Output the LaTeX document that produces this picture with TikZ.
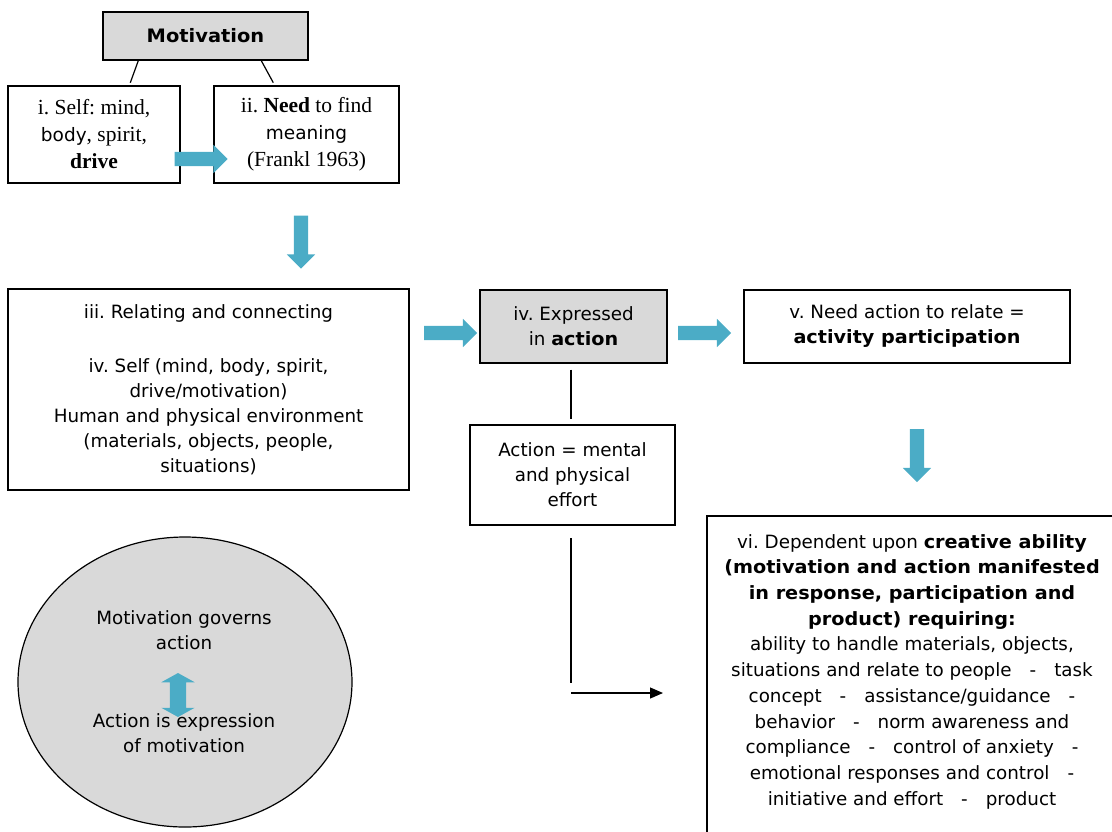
\documentclass[tikz,border=0pt]{standalone}
\usepackage{fontspec}
\setmainfont{Liberation Serif}
\newfontfamily\tah{DejaVu Sans}[BoldFeatures={FakeStretch=1.05}]
\usetikzlibrary{shapes.geometric,shapes.arrows,arrows.meta}
\definecolor{blu}{RGB}{75,172,198}
\definecolor{gry}{RGB}{217,217,217}
\frenchspacing
\begin{document}
\begin{tikzpicture}[x=1pt,y=-1pt,
  box/.style={draw, line width=1.4pt, inner sep=0pt, align=center},
  sf/.style={font=\tah\fontsize{18.3}{25}\selectfont},
  rm/.style={font=\fontsize{21.5}{27}\selectfont},
  rarr/.style={single arrow, fill=blu, draw=none, minimum height=53,
    single arrow head extend=7, inner sep=7pt, shape border rotate=0},
  darr/.style={rarr, shape border rotate=270},
  conn/.style={line width=1.2pt}]
\useasboundingbox (0,0) rectangle (1112,831);
\newcommand\tb[1]{{\tah\fontsize{18.5}{27}\selectfont #1}}
\newcommand\dsh{\hspace{18pt}-\hspace{18pt}}
% top
\node[box, fill=gry, minimum width=205, minimum height=48,
  font=\tah\bfseries\fontsize{18.5}{22}\selectfont] (mot) at (205.5,36) {Motivation};
\node[box, rm, minimum width=172, minimum height=97] (self) at (94,134.5)
  {i. Self: mind,\\\tb{body}, spirit,\\\textbf{drive}};
\node[box, rm, minimum width=185, minimum height=97] (need) at (306.5,134.5)
  {ii. \textbf{Need} to find\\\tb{meaning}\\(Frankl 1963)};
\draw[conn] (mot.south west) ++(36,0) coordinate (m1) -- ++(-8,22) coordinate (m1e);
\draw[conn] (mot.south west) ++(159,0) coordinate (m2) -- ++(12,22) coordinate (m2e);
\node[rarr] (a1) at (197.5,159) {};
\node[darr] (a2) at (301,238.5) {};
% middle row
\node[box, sf, minimum width=401, minimum height=201] (rel) at (208.5,389.5)
  {iii. Relating and connecting\\[29pt]iv. Self (mind, body, spirit,\\drive/motivation)\\Human and physical environment\\(materials, objects, people,\\situations)};
\node[box, sf, fill=gry, minimum width=187, minimum height=73] (expr) at (573.5,326.5)
  {iv. Expressed\\in \textbf{action}};
\node[box, sf, minimum width=326, minimum height=73] (needact) at (907,326.5)
  {v. Need action to relate =\\\textbf{activity participation}};
\node[rarr] (a3) at (447,333) {};
\node[rarr] (a4) at (701,333) {};
\draw[conn] (expr.south) ++(-2.5,6) coordinate (e1) -- ++(0,49) coordinate (e1e);
\node[box, sf, minimum width=205, minimum height=100] (act) at (572.5,475)
  {Action = mental\\and physical\\effort};
\coordinate (v1) at (571,538);
\coordinate (v2) at (571,683);
\coordinate (h1) at (571,693);
\coordinate (h2) at (663,693);
\draw[conn] (v1) -- (v2);
\draw[conn, -{Triangle[length=13pt,width=11pt]}] (h1) -- (h2);
\node[darr] (a5) at (917,452) {};
% bottom right
\node[box, minimum width=410, minimum height=324] (dep) at (912,678) {};
\node[font=\tah\fontsize{18.3}{25.7}\selectfont, align=center, anchor=north, inner sep=0pt] (deptext) at (912,534)
  {vi. Dependent upon \textbf{creative ability}\\
   \textbf{(motivation and action manifested}\\
   \textbf{in response, participation and}\\
   \textbf{product) requiring:}\\
   ability to handle materials, objects,\\
   situations and relate to people\dsh task\\
   concept\dsh assistance/guidance\dsh\\
   behavior\dsh norm awareness and\\
   compliance\dsh control of anxiety\dsh\\
   emotional responses and control\dsh\\
   initiative and effort\dsh product};
% ellipse
\node[ellipse, draw, line width=1.2pt, fill=gry, minimum width=334, minimum height=290] (ell) at (185,682) {};
\node[double arrow, fill=blu, draw=none, minimum height=44,
  double arrow head extend=8.5, double arrow tip angle=122, inner sep=8pt,
  shape border rotate=90] (a6) at (178,695) {};
\node[sf, align=center] (gov) at (184,630) {Motivation governs\\action};
\node[sf, align=center] (expm) at (184,733) {Action is expression\\of motivation};
\end{tikzpicture}
\end{document}
